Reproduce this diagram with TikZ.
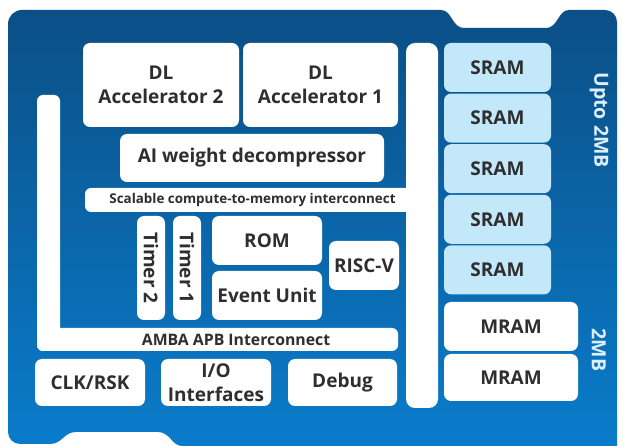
\documentclass[tikz,border=0pt]{standalone}
\usepackage{fontspec}
\setmainfont{Open Sans}
\definecolor{txt}{HTML}{2E2E2E}
\definecolor{pantop}{HTML}{0B4F86}
\definecolor{panbot}{HTML}{0A7CCB}
\definecolor{sramc}{HTML}{C2E8FA}
\definecolor{side}{HTML}{DCEFFB}
\tikzset{
  box/.style={fill=white, rounded corners=7pt, inner sep=0pt, align=center, text=txt,
    font=\bfseries\fontsize{19}{24}\selectfont},
  srambox/.style={box, fill=sramc, minimum width=107pt, minimum height=49pt},
  barbox/.style={fill=white, rounded corners=6pt, inner sep=0pt},
  lbl/.style={inner sep=0pt, text=txt, font=\bfseries\fontsize{15.8}{18}\selectfont},
  sidelbl/.style={inner sep=0pt, text=side, rotate=-90, font=\bfseries\fontsize{19.5}{22}\selectfont}
}
\begin{document}
\begin{tikzpicture}[x=1pt,y=-1pt]
\useasboundingbox (0,0) rectangle (622,446);
\fill[white] (0,0) rectangle (622,446);
% panel
\shade[top color=pantop, bottom color=panbot]
  (8,432) -- (8,24) arc[start angle=180,end angle=270,radius=14]
  -- (441,10) .. controls (452,10) and (452,28) .. (464,28)
  -- (546,28) .. controls (558,28) and (558,10) .. (569,10)
  -- (605,10) arc[start angle=270,end angle=360,radius=12]
  -- (617,446) -- (182,446)
  .. controls (172,446) and (170,432) .. (158,432)
  -- (76,432) .. controls (64,432) and (62,444) .. (50,444)
  -- (20,444) arc[start angle=90,end angle=180,radius=12] -- cycle;
% buses
\node[barbox, minimum width=23pt, minimum height=256pt] (lbus) at (48.5,223) {};
\node[barbox, minimum width=361pt, minimum height=23pt] (amba) at (217.5,339.5) {};
\node[lbl] (ambat) at (236,340) {AMBA APB Interconnect};
\node[barbox, minimum width=335pt, minimum height=24pt] (scal) at (252.5,200) {};
\node[lbl, font=\bfseries\fontsize{13.4}{15}\selectfont] (scalt) at (252.5,200.5) {Scalable compute-to-memory interconnect};
\node[barbox, rounded corners=9pt, minimum width=32pt, minimum height=365pt] (rbus) at (422,225.5) {};
% compute blocks
\node[box, minimum width=156pt, minimum height=84pt] (dl2) at (161,85) {DL\\Accelerator 2};
\node[box, minimum width=155pt, minimum height=84pt] (dl1) at (320.5,85) {DL\\Accelerator 1};
\node[box, minimum width=264pt, minimum height=48pt] (ai) at (252,158) {AI weight decompressor};
\node[box, minimum width=28pt, minimum height=104pt] (t2) at (151,268) {\rotatebox{-90}{Timer 2}};
\node[box, minimum width=28pt, minimum height=104pt] (t1) at (187,268) {\rotatebox{-90}{Timer 1}};
\node[box, minimum width=110pt, minimum height=49pt] (rom) at (267,240.5) {ROM};
\node[box, minimum width=110pt, minimum height=49pt] (ev) at (267,295.5) {Event Unit};
\node[box, minimum width=70pt, minimum height=49pt] (risc) at (364,265.5) {RISC-V};
\node[box, minimum width=110pt, minimum height=47pt] (clk) at (90,382.5) {CLK/RSK};
\node[box, minimum width=110pt, minimum height=47pt] (io) at (216,382.5) {I/O\\Interfaces};
\node[box, minimum width=109pt, minimum height=47pt] (dbg) at (342.5,382.5) {Debug};
% memories
\node[srambox] (s1) at (497.5,67.5) {SRAM};
\node[srambox] (s2) at (497.5,118.1) {SRAM};
\node[srambox] (s3) at (497.5,168.7) {SRAM};
\node[srambox] (s4) at (497.5,219.3) {SRAM};
\node[srambox] (s5) at (497.5,269.9) {SRAM};
\node[box, minimum width=134pt, minimum height=49pt] (m1) at (511,326.5) {MRAM};
\node[box, minimum width=134pt, minimum height=47pt] (m2) at (511,377.5) {MRAM};
\node[sidelbl] (up) at (599,120) {Upto 2MB};
\node[sidelbl] (mb) at (599,350) {2MB};
\end{tikzpicture}
\end{document}
